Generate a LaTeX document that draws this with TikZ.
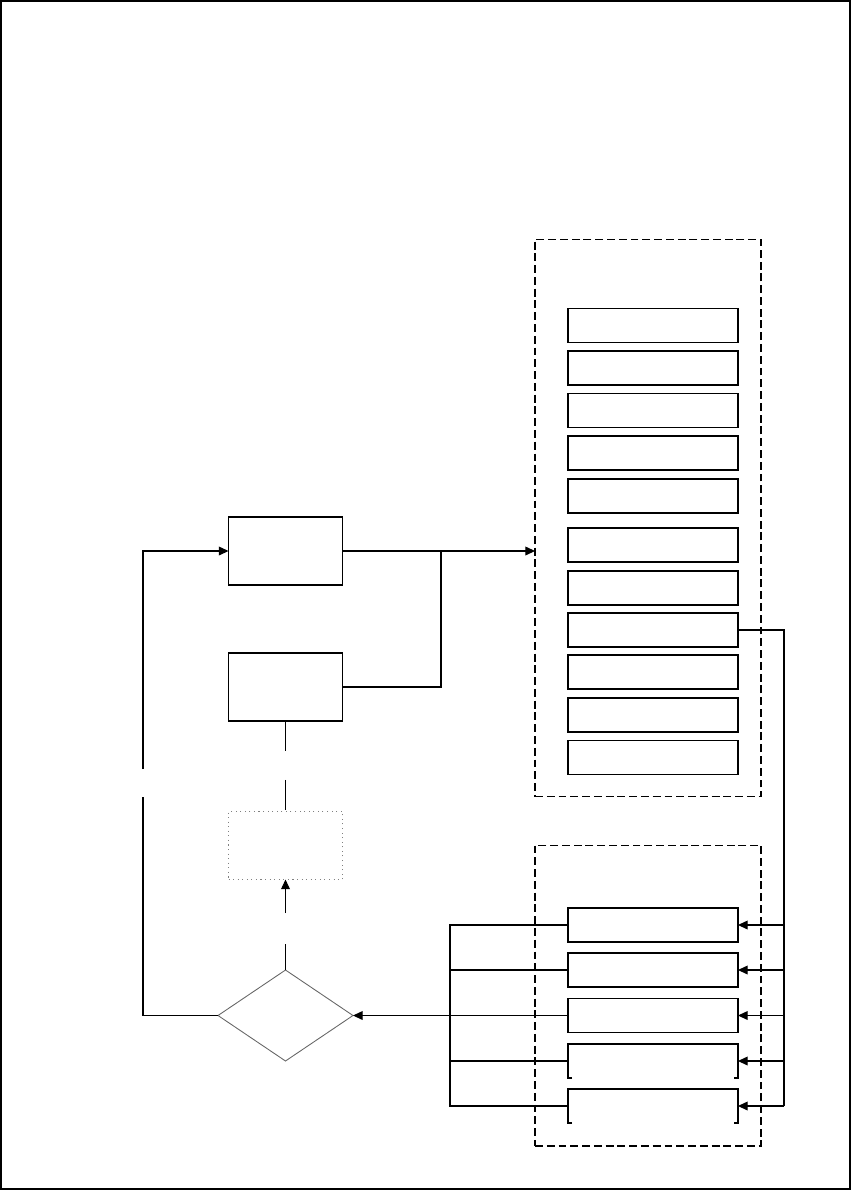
\documentclass[tikz,border=0pt]{standalone}
\usetikzlibrary{arrows.meta, positioning, shapes.geometric}

\tikzset{
  unit/.style={draw, line width=0.6pt, inner sep=0pt, outer sep=0pt, minimum width=3.4cm, minimum height=0.68cm},
  block/.style={draw, line width=0.6pt, inner sep=0pt, outer sep=0pt, minimum width=2.28cm, minimum height=1.36cm},
  group/.style={draw, line width=0.6pt, dash pattern=on 4.5pt off 2.2pt, inner sep=0pt, outer sep=0pt, minimum width=4.52cm},
}

\begin{document}
\begin{tikzpicture}[x=0.02cm, y=-0.02cm, line width=0.6pt, >={Triangle[length=5.5pt, width=5pt]}]
\useasboundingbox (0,0) rectangle (852,1191);
\draw (1,1) rectangle (850,1189);

% left column
\node[block] (ctrl) at (285.5,551) {};
\node[block] (feed) at (285.5,687) {};
\node[block, draw=gray, dotted] (hold) at (285.5,845.5) {};
\node[draw=black!60, line width=0.5pt, diamond, inner sep=0pt, outer sep=0pt, minimum width=2.7cm, minimum height=1.82cm] (check) at (285.5,1015.5) {};

% upper group
\node[group, minimum height=11.16cm] (grpA) at (648,518) {};
\foreach \y [count=\i] in {325.5,368,410.5,453,496,545,588,630,672,715,757.5}
  \node[unit] (r\i) at (653,\y) {};

% lower group
\node[group, minimum height=6.02cm] (grpB) at (648,995.5) {};
\foreach \y [count=\i] in {925,970,1015.5}
  \node[unit] (s\i) at (653,\y) {};
\foreach \y [count=\i from 4] in {1061,1106}{
  \node[unit, draw=none] (s\i) at (653,\y) {};
  \draw (s\i.south west) ++(4,0) -- (s\i.south west) -- (s\i.north west) -- (s\i.north east) -- (s\i.south east) -- ++(-4,0);
}

% connectors
\coordinate (jn) at (441,551);
\draw[->] (ctrl.east) -- (ctrl.east -| grpA.west);
\draw (feed.east) -| (jn);
\draw[dash pattern=on 0.6cm off 0.58cm] (feed.south) -- (hold.north);
\draw[->, dash pattern=on 0.52cm off 0.62cm] (check.north) -- (hold.south);

\coordinate (gapbot) at (143,797);
\coordinate (gaptop) at (143,769);
\draw (check.west) -| (gapbot);
\draw[->] (gaptop) |- (ctrl.west);

\coordinate (busR) at (784,1106);
\draw (r8.east) -| (busR);
\foreach \i in {1,...,5}
  \draw[->] (s\i.east -| busR) -- (s\i.east);

\coordinate (busL) at (450,1106);
\draw (s1.west) -| (busL) -- (s5.west);
\foreach \i in {2,4}
  \draw (s\i.west) -- (s\i.west -| busL);
\draw[->] (s3.west) -- (check.east);
\end{tikzpicture}
\end{document}
